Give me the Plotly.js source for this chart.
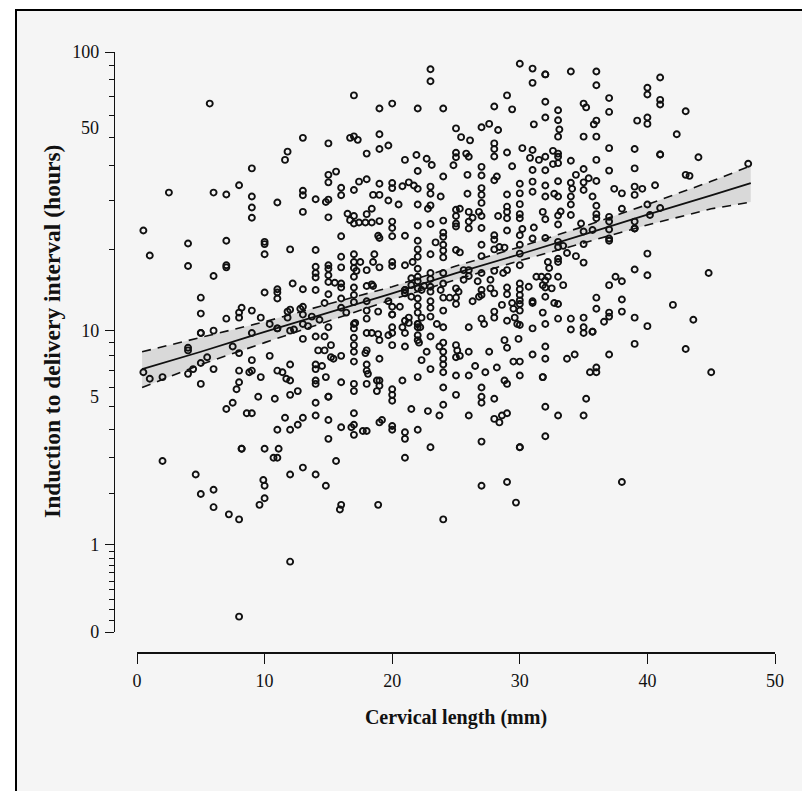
<!DOCTYPE html>
<html>
<head>
<meta charset="utf-8">
<script src="https://cdn.plot.ly/plotly-3.0.1.min.js"></script>
<style>html,body{margin:0;padding:0;background:#fff}</style>
</head>
<body>
<div id="chart" style="width:802px;height:791px"></div>
<script>
// Readings: cervical length (mm) and induction-to-delivery interval (hours)
const lenTopLeft = [5.7,2.5,.5,6,7,8,9,9,9,9,11,11.6,11.8,13,13,13,13,14,15,15.6,15,15,14.8,15,15,16,16];
const hrsTopLeft = [66,32,23.4,32,31.5,34,39,31,28.3,26,29.5,41.8,44.7,50,32.5,31.3,27.3,30.3,47.8,38,37,34.8,29.6,30.2,26.1,33.3,31.3];
const lenUpperLeft = [1,4,4,6,7,7,7,10,10,10,12,14,14,14,14,15,15,15,15,15.5,16,16];
const hrsUpperLeft = [19,21,17.4,16,21.5,17.5,17.2,21.3,20.9,19.2,20,19.9,17.3,16.4,15.8,17.5,17,16.1,15.2,15.1,18.8,17.2];
const lenMidLeft = [5,5,5,5,6,4,4,7,8,8,8.2,9,10,11,11,11,12.2,13,14,15,14.7,16,9.7,10.4,11,11,11.8,12,11.8,12.8,13,13,13.7,14.3,13,13.4,15,12,12.3,9,13,14,14.7,15.2,14.2,14.7];
const hrsMidLeft = [13.3,11.6,9.8,9.8,10,8.6,8.4,11.1,11.7,11.2,12.2,11.9,13.9,14.3,13.9,13.2,15,14.3,14.2,13.7,12.7,13.2,11.2,10.6,10.2,10.2,11.8,12,11.2,12.1,12.3,11.5,11.3,11,10.6,10.4,10.3,10,10.1,9.8,9.3,9.5,9.5,8.8,8.4,8.4];
const lenLowLeft = [7.5,8,10.4,5.5,5,4.4,4,.5,1,2,6,5,8,8.8,9,9,8,7.8,9.7,11,11.4,11.7,12,12,14,14,14.5,15.2,15.4,14,14,14.8,16];
const hrsLowLeft = [8.7,8.2,8,7.9,7.5,7.1,6.8,6.9,6.5,6.6,7.1,6.2,7,6.9,7,7.7,6.3,5.9,6.6,7,6.9,6.5,6.4,7.4,7.4,7.1,7.3,7.9,7.8,6.4,6.2,6.6,6.3];
const lenLower = [9.5,10.8,12,12.6,14,15,15,7,7.5,8.6,9,11.6,13,12.6,14,15,11,12,16];
const hrsLower = [5.5,5.4,5.6,5.8,5.2,5.5,5.5,4.9,5.2,4.7,4.7,4.5,4.5,4.2,4.6,4.4,4,4,4.1];
const lenBottomLeft = [2,4.6,5,6,6,7.2,8,8.2,8.2,10,11.1,11,10.7,9.9,10,10,9.6,12,13,14,14.8,15.6,15,15.9,16,12,8];
const hrsBottomLeft = [2.9,2.5,2,2.1,1.7,1.55,1.45,3.3,3.3,3.3,3.3,3,3,2.35,2.2,1.9,1.75,2.5,2.7,2.5,2.2,2.9,3.65,1.65,1.75,.75,.13];
const lenBottomMid = [16.8,17,17,17.7,18,19,19.2,20,20,21,21,21,22,23,18.9,24,27,30,30,32,27,29,29.7,28,28.4,38];
const hrsBottomMid = [4.1,4.2,3.8,3.95,3.95,4.3,4.4,4.15,4,3.9,3.65,3,4,3.35,1.75,1.45,3.55,3.35,3.35,3.75,2.2,2.3,1.8,4.45,4.3,2.3];
const lenRight = [35,37,35,40,40,39,37.5,38,37,44.8,36,38,36,38,37,37,36.6,39,40,42,43.6,43,35,35,35,35.7,35.7,39,37,36,35.5,36,45,35.2,35];
const hrsRight = [20.9,21.5,17.9,19.3,16.1,16.9,15.9,15.3,14.8,16.4,13.3,13.1,12.1,11.8,11.7,11.3,10.8,11.2,10.4,12.5,11,8.5,11.2,10.3,9.8,9.9,9.9,8.9,8.1,7.2,6.9,6.9,6.9,5.4,4.6];
const lenTopRight = [34,36,36,41,40,40,37,35,35.2,41,41,37,43,36,35.8,39.2,40,40,35,36,42.3,37,39,41,41,44,34,36,35,37,39,47.9,43,43.3,34.4,35.4,35,35,36,34,34.1,37.4,38,39,39.6,39,40.6,34,34,35.7,36,34,33.2,38,40,41,40.2,39,39,39,36,36,37,37,37,34.8,35,35.7,37];
const hrsTopRight = [85.5,85.5,76.5,81.5,75,71,69,66,64,68,65.5,61.7,62,57.5,55.8,57.5,59,56,50.5,50.5,51.5,46,45.7,43.7,43.7,42.7,41.5,41.8,38.8,38.3,39,40.5,37,36.7,37,36,34.8,32.7,35.2,34.7,33,33,31.8,33.6,33,31.4,34,31,29,31,28.7,26.6,27.4,28,29,28.2,26.6,25.2,23.8,23.8,26.8,25.9,26.2,25.2,23.6,24.8,23.2,23.5,21.9];

const pairsCentreA = [[16,22.3],[16,15],[16,14.5],[16,12.2],[16.4,11.7],[16,8],
[17,19.2],[17,18],[17,17.1],[17,15.9],[17,14.5],[17,13.6],[17,12.8],[17,10.6],[17.1,10.7],[17,10.2],[17,9.4],[17,8.8],[17,8.3],[17,7.6],[17,6.2],[17,5.8],[17,4.7],[17.5,18],[17.2,16.7],
[18,16.8],[18,14.7],[18.4,14.9],[18.5,14.7],[18,12.9],[18,11.9],[18,11.1],[18,9.8],[18.4,9.8],[18,8.4],[17.9,8.2],[18,7.4],[18,7],[18.1,6.8],[18,6.2],
[18.9,22.4],[19,22],[18.6,19.2],[18.5,18],[19,17.2],[18.9,11.8],[18.9,9.7],[19,9.2],[19,7.8],[18.8,6.4],[19,6.4],[19,6.1],[18.8,5.8],
[20,22.3],[20,18],[20,17.4],[19.7,12.9],[20,12.3],[20,11.5],[20,11.5],[20.6,12.3],[20,10.3],[20,9.8],[19.7,9.6],[20,8.8],[20,5.9],[20,5.6],[20,5.3],
[21,22.4],[21,17.5],[21.6,18],[21,14.2],[21,14.2],[21,13.8],[21.5,13.4],[20.8,10.3],[21.3,11.2],[21,10.9],[21.3,10.7],[21,9.8],[21,8.7],[20.8,6.4],[21.5,4.9]];
const pairsCentreB = [[22,21.5],[22,20],[22,18.8],[22,17],[22,15.9],[21.5,15.7],[22,15.3],[21.5,14.8],[22,14.4],[22,13.2],[22,12.4],[22,11.7],[22,10.6],[22,10.6],[22,10.3],[22,9.6],[22,9.2],[22.1,9],[22.3,7.7],[22.7,8.3],[22,6.6],[22.8,4.8],[22.3,11.2],[22.2,10.3],[22.3,14.2],[22.5,14.7],
[23,19.2],[23,16.4],[23,15.6],[23,14.6],[23,14],[23,12.9],[23,12.2],[23,11.3],[23,9.5],[23,7.1],[23.4,21.2],[23.5,10.6],
[24,23],[24,22.2],[24,20.8],[24,19.8],[24,18.7],[24,16.4],[24,15],[24,13.3],[24,11.9],[24,10.3],[24,9],[24,8.3],[24,7.8],[24,7.4],[24,6.9],[24,6],[24,5.1],[23.8,14.2],[23.7,8.7],[23.7,4.6],
[25,19.9],[25.3,19.5],[25,14.4],[25.2,14],[24.5,13.3],[25,13.3],[25,12.6],[25,8.8],[25.1,8.4],[25.3,8],[25,7.9],[25,6.7],[25,5.6],
[25.6,16.8],[26,16.8],[25.6,15.5],[26,16],[26.3,12.9],[26,10.3],[26,8.3],[26,6.7],[26,4.6],[26.5,7.3],
[27,20.8],[27,18.9],[27,16.4],[27,14.2],[27,13.6],[27,11.1],[27,6],[27,5.5],[27,5.2],[26.7,15.3],[26.8,13.4],[27.2,10.6],[27.3,6.9]];
const pairsCentreC = [[28,22.5],[28,21.7],[28,20],[28,16.7],[28,13.8],[28,11.8],[28,11.2],[28,5.4],[27.7,15.5],[27.7,14.4],[27.6,8.3],[28.2,7.2],
[28.4,20.4],[28.8,20.3],[28.7,16.4],[29,16.8],[29,14.5],[29,13.7],[28.6,12.5],[29,10.9],[28.8,9.2],[29,8.6],[28.8,6.4],[29,6.2],[29,4.7],[28.6,4.6],
[30,22.5],[30,20.8],[30,19.3],[30,17.5],[30,15],[30,14.3],[30,13.6],[30,13],[30,12.6],[30,11.9],[30,10.5],[30,7.6],[30,6.7],[29.4,12.7],[29.5,12.1],[29.6,11.2],[29.8,10.6],[29.9,9.3],[29.5,7.6],[30.7,14.6],
[31,21.9],[31,12.9],[31,12.7],[31,10.2],[31,8.1],
[32,22],[33,21.3],[32.2,18],[32.3,17.1],[31.3,15.9],[31.7,15.9],[32.2,15.9],[32,15.4],[31.8,14.8],[32,14.5],[32.5,14.4],[32,13.4],[31.8,11.7],[32,10.6],[32,8.7],[32,7.8],[31.8,6.6],[31.8,6.6],[32,5],
[33,20.4],[33.4,20.6],[33.7,19.4],[33,18.5],[33,18],[33,15.9],[33.4,14.8],[32.7,12.7],[33,12.6],[33,11.1],[33,4.6],[33.7,7.8],
[34.4,18.9],[34,11.1],[34,10.1],[34.3,8.1]];
const pairsHighA = [[17,70.5],[19,63.4],[20,66],[22,63.4],[24,63.4],[23,87],[23,79],[30,91],[31,87.5],[32,83.5],[32,83.5],[31,78],[29,70.5],[28,64.5],[29.4,63],[32,67],[33,62.5],[32,59],[33,57.7],[33.1,53.5],[33,50.5],[31.1,55.8],[25,54],[25.4,50.3],[26.1,49],[27,54.5],[27.6,56],[28.3,53.3],[28,47.8],[28,45.7],[28,43],[29,44.4],[30.2,46],[31,45.3],[30.8,42.5],[31.5,41.8],[32,42.9],[32.6,45],[33,44],[33,42.9],[33,40.7],[32.6,40.4],[32,38.4],[31,38.5],[29.4,39.7]];
const pairsHighB = [[16.7,50],[17,50.6],[17.3,49.2],[19,51.5],[19,45.7],[19.7,47],[18,44],[21,41.8],[21.9,43.5],[22,38.2],[22.7,42.2],[23.1,40.1],[24,36.5],[24.8,40],[25,44.3],[25,42.7],[25.8,44],[26,42.9],[25.9,37],[27,39.5],[27,36.8],[28.2,36.5],[28,35.4],[30,34.4],[31,35],[29,31.5],[30,31.8],[31,32.2],[32,33.9],[32,31],[32.7,31.7],[33,31],[33,35.1]];
const pairsUpperA = [[27,33.2],[27,31.4],[27,29.4],[25.9,31.7],[23.8,31],[23,33.6],[23,31.7],[22,33],[21.7,33.9],[21.3,34.8],[20.8,33.7],[20,34.6],[20,33.2],[19,34.4],[18,35.7],[17.4,35],[17,32.7],[18.5,31.4],[19,31.4],[19.7,30],[20.5,29],[22,29],[23,28.8],[22.8,28],[24,25.4],[23,24.7],[22,24.4],[20,25.2],[20,23.9],[18.4,28],[19,25.3],[18.4,25],[17.9,25],[17.4,25],[17,26.4],[17,24.8],[16.5,26.9],[16.7,25.5],[18,26.8]];
const pairsUpperB = [[25,27.8],[25.3,28],[25,26.4],[25,24.8],[25,24.2],[26,27.3],[26.3,26],[26,25.2],[26,23.8],[26.8,27.3],[27,26.4],[27,23.9],[28.3,26.4],[29,28.5],[29,27.3],[29,25.9],[29,23.4],[30,29.1],[30,26.8],[30,25.9],[30.2,23.7],[31.1,24],[32,25.7],[31.8,27.3],[33,26.5],[33,24.6]];

// Regression fit and 95% confidence band
const fitLength = [0.4,5,10,15,20,25,30,35,40,45,48.1];
const fitHours  = [7.1,8.3,9.9,11.7,13.8,16.4,19.2,22.6,26.7,31.3,34.6];
const ciUpper   = [8.3,9.4,10.8,12.6,14.6,17.4,20.4,24.2,29,35.1,39.8];
const ciLower   = [6.0,7.4,9.0,10.9,13.1,15.5,18.2,21.1,24.5,28,29.6];

// Axis ticks
const xTicks = [0,10,20,30,40,50];
const yMajorTicks = [100,10,1,0];
const yMinorTicks = [90,80,70,60,50,40,30,20,9,8,7,6,5,4,3,2,0.9,0.8,0.7,0.6,0.5,0.4,0.3,0.2,0.1];
const yOffsetLabels = [50,5];

const zip = (a,b) => { if (a.length !== b.length) throw new Error('length mismatch '+a.length+' '+b.length); return a.map((v,i)=>[v,b[i]]); };
const points = [].concat(
  zip(lenTopLeft,hrsTopLeft), zip(lenUpperLeft,hrsUpperLeft), zip(lenMidLeft,hrsMidLeft),
  zip(lenLowLeft,hrsLowLeft), zip(lenLower,hrsLower), zip(lenBottomLeft,hrsBottomLeft),
  zip(lenBottomMid,hrsBottomMid), zip(lenRight,hrsRight), zip(lenTopRight,hrsTopRight),
  pairsCentreA, pairsCentreB, pairsCentreC, pairsHighA, pairsHighB, pairsUpperA, pairsUpperB);

// The axis scale is log10(hours + 1)
const shift = h => h + 1;

const W = 802, H = 791, mL = 60, mR = 17, mT = 20, mB = 100;
const pw = W - mL - mR, ph = H - mT - mB;
const fx = p => (p - mL) / pw;
const fy = p => (H - mB - p) / ph;

const serif = '"Liberation Serif","Times New Roman",serif';
const ink = '#111111';

const traces = [
  {x: fitLength, y: ciUpper.map(shift), type:'scatter', mode:'lines', line:{color:'rgba(0,0,0,0)',width:0}, showlegend:false, hoverinfo:'skip'},
  {x: fitLength, y: ciLower.map(shift), type:'scatter', mode:'lines', fill:'tonexty', fillcolor:'#d9d9d9', line:{color:'rgba(0,0,0,0)',width:0}, showlegend:false, hoverinfo:'skip'},
  {x: fitLength, y: ciUpper.map(shift), type:'scatter', mode:'lines', line:{color:'#111',width:1.6,dash:'9px,7px'}, showlegend:false},
  {x: fitLength, y: ciLower.map(shift), type:'scatter', mode:'lines', line:{color:'#111',width:1.6,dash:'9px,7px'}, showlegend:false},
  {x: fitLength, y: fitHours.map(shift), type:'scatter', mode:'lines', line:{color:'#111',width:1.8}, showlegend:false},
  {x: points.map(p=>p[0]), y: points.map(p=>shift(p[1])), type:'scatter', mode:'markers', cliponaxis:false, showlegend:false,
   marker:{symbol:'circle-open', size:6, color:'#111', line:{color:'#111', width:1.9}}}
];

const layout = {
  width: W, height: H,
  margin: {l:mL, r:mR, t:mT, b:mB, pad:0},
  paper_bgcolor:'#f5f5f5', plot_bgcolor:'rgba(0,0,0,0)',
  showlegend:false,
  font:{family:serif, color:ink, size:18},
  xaxis:{
    type:'linear', range:[0,50], domain:[fx(137), fx(775)],
    anchor:'free', position:fy(653),
    showline:true, linecolor:ink, linewidth:1.6, zeroline:false, showgrid:false,
    ticks:'outside', ticklen:10, tickwidth:1.4, tickcolor:ink,
    tickmode:'array', tickvals:xTicks, ticktext:xTicks.map(String),
    tickfont:{family:serif, size:18, color:ink}, ticklabelstandoff:2,
    title:{text:'<b>Cervical length (mm)</b>', font:{family:serif, size:20, color:ink}, standoff:19}
  },
  yaxis:{
    type:'log', range:[0, Math.log10(101)], domain:[fy(632), fy(52)],
    anchor:'free', position:fx(114),
    showline:true, linecolor:ink, linewidth:1.4, zeroline:false, showgrid:false,
    ticks:'outside', ticklen:9, tickwidth:1.4, tickcolor:ink,
    tickmode:'array', tickvals:yMajorTicks.map(shift), ticktext:yMajorTicks.map(String),
    tickfont:{family:serif, size:18, color:ink}, ticklabelstandoff:2,
    minor:{tickmode:'array', tickvals:yMinorTicks.map(shift), ticks:'outside', ticklen:4.5, tickwidth:1.4, tickcolor:ink, showgrid:false}
  },
  annotations: [
    ...yOffsetLabels.map(v => ({
      xref:'paper', yref:'y', x:fx(101), y:Math.log10(shift(v)), yshift:10,
      xanchor:'right', yanchor:'middle', showarrow:false, text:String(v),
      font:{family:serif, size:18, color:ink}
    })),
    {xref:'paper', yref:'paper', x:fx(52), y:fy(332), xanchor:'center', yanchor:'middle', textangle:-90, showarrow:false,
     text:'<b>Induction to delivery interval (hours)</b>', font:{family:serif, size:23.5, color:ink}}
  ],
  shapes: [
    {type:'rect', layer:'below', xref:'paper', yref:'paper', x0:fx(0), x1:fx(15), y0:fy(791), y1:fy(0), fillcolor:'#ffffff', line:{width:0}},
    {type:'rect', layer:'below', xref:'paper', yref:'paper', x0:fx(0), x1:fx(802), y0:fy(9), y1:fy(0), fillcolor:'#ffffff', line:{width:0}},
    {type:'line', layer:'below', xref:'paper', yref:'paper', x0:fx(16), x1:fx(16), y0:fy(791), y1:fy(10), line:{color:'#000',width:2}},
    {type:'line', layer:'below', xref:'paper', yref:'paper', x0:fx(15), x1:fx(802), y0:fy(10), y1:fy(10), line:{color:'#000',width:2}}
  ]
};

Plotly.newPlot('chart', traces, layout, {displayModeBar:false, responsive:false});
</script>
</body>
</html>
